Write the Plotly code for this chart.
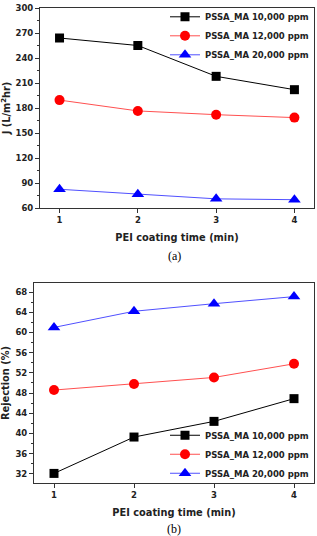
import plotly.graph_objects as go
from plotly.subplots import make_subplots

time_min = [1, 2, 3, 4]
series_names = ["PSSA_MA 10,000 ppm", "PSSA_MA 12,000 ppm", "PSSA_MA 20,000 ppm"]
flux_10k = [264, 255, 218, 202]
flux_12k = [189.5, 176.5, 172, 168.5]
flux_20k = [82.5, 76.5, 71, 70]
rej_10k = [32.1, 39.3, 42.4, 46.9]
rej_12k = [48.6, 49.8, 51.1, 53.8]
rej_20k = [61.0, 64.2, 65.7, 67.1]
flux_ticks = [60, 90, 120, 150, 180, 210, 240, 270, 300]
rej_ticks = [32, 36, 40, 44, 48, 52, 56, 60, 64, 68]

colors = ["#000000", "#ff0000", "#0000ff"]
line_colors = ["#000000", "#ff5050", "#5050ff"]
symbols = ["square", "circle", "triangle-up"]
sizes = [9, 10, 11]

fig = make_subplots(rows=2, cols=1)

FONT = "DejaVu Sans"
TXT = "#222"
for i, (ys, name) in enumerate(zip([flux_10k, flux_12k, flux_20k], series_names)):
    fig.add_trace(go.Scatter(x=time_min, y=ys, name="<b>%s</b>" % name, mode="lines+markers",
                             line=dict(color=line_colors[i], width=1),
                             marker=dict(symbol=symbols[i], size=sizes[i], color=colors[i]),
                             legend="legend"), row=1, col=1)
for i, (ys, name) in enumerate(zip([rej_10k, rej_12k, rej_20k], series_names)):
    fig.add_trace(go.Scatter(x=time_min, y=ys, name="<b>%s</b>" % name, mode="lines+markers",
                             line=dict(color=line_colors[i], width=1),
                             marker=dict(symbol=symbols[i], size=sizes[i], color=colors[i]),
                             legend="legend2"), row=2, col=1)

def bold(vals):
    return ["<b>%g</b>" % v for v in vals]

axis_common = dict(showline=True, linecolor="#333", linewidth=1, mirror=True,
                   ticks="outside", ticklen=4, tickcolor="#333", showgrid=False,
                   zeroline=False,
                   tickfont=dict(family=FONT, size=8.5, color=TXT))
title_font = dict(family=FONT, size=9.8, color=TXT)

fig.update_xaxes(**axis_common, range=[0.75, 4.25], tickvals=time_min, ticktext=bold(time_min),
                 title=dict(text="<b>PEI coating time (min)</b>", font=title_font, standoff=9))
fig.update_xaxes(domain=[0.0213, 1], row=1, col=1)
fig.update_xaxes(domain=[0, 1], row=2, col=1)

fig.update_yaxes(**axis_common)
fig.update_yaxes(row=1, col=1, domain=[0.5789, 1], range=[60, 300],
                 tickvals=flux_ticks, ticktext=bold(flux_ticks),
                 minor=dict(ticks="outside", ticklen=2, tickcolor="#333", dtick=15, tick0=60),
                 title=dict(text="<b>J (L/m<sup>2</sup>hr)</b>", font=title_font, standoff=7))
fig.update_yaxes(row=2, col=1, domain=[0, 0.4211], range=[30.2, 69.8],
                 tickvals=rej_ticks, ticktext=bold(rej_ticks),
                 minor=dict(ticks="outside", ticklen=2, tickcolor="#333", dtick=2, tick0=32),
                 title=dict(text="<b>Rejection (%)</b>", font=title_font, standoff=7))

legend_font = dict(family=FONT, size=8.5, color=TXT)
fig.update_layout(
    width=317, height=536,
    margin=dict(l=33, r=2, t=8, b=53),
    paper_bgcolor="white", plot_bgcolor="white",
    legend=dict(x=1, y=1.012, xanchor="right", yanchor="top", bgcolor="rgba(0,0,0,0)",
                font=legend_font, itemwidth=30, tracegroupgap=0),
    legend2=dict(x=1, y=-0.01, xanchor="right", yanchor="bottom", bgcolor="rgba(0,0,0,0)",
                 font=legend_font, itemwidth=30, tracegroupgap=0),
    font=dict(family=FONT),
)
fig.add_annotation(text="(a)", xref="paper", yref="paper", yanchor="middle",
                   x=0.5, y=0.5789, yshift=-48, showarrow=False,
                   font=dict(family="Liberation Serif", size=12, color="black"))
fig.add_annotation(text="(b)", xref="paper", yref="paper", yanchor="middle",
                   x=0.5, y=0, yshift=-46, showarrow=False,
                   font=dict(family="Liberation Serif", size=12, color="black"))

fig.write_html("out.html")
